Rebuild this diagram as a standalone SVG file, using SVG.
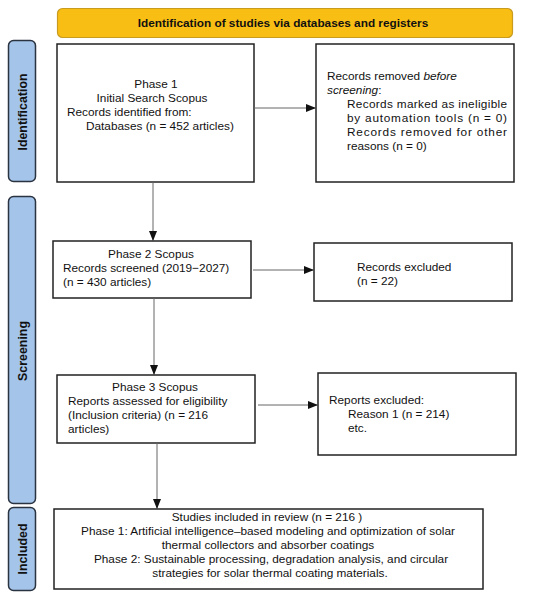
<svg xmlns="http://www.w3.org/2000/svg" width="550" height="599" viewBox="0 0 550 599">
<style>
text{font-family:"Liberation Sans",Arial,sans-serif;font-size:11.8px;fill:#111}
.box{fill:#fff;stroke:#222;stroke-width:1.5}
.side{fill:#a4c4e9;stroke:#2a3340;stroke-width:1.5}
.sidet{font-weight:bold;font-size:12.4px}
.c{text-anchor:middle}
.con{stroke:#666;stroke-width:1;fill:none}
</style>
<defs>
<marker id="ah" markerWidth="10" markerHeight="8" refX="9" refY="4" orient="auto" markerUnits="userSpaceOnUse">
<path d="M0,0 L10,4 L0,8 Z" fill="#111"/>
</marker>
</defs>
<rect width="550" height="599" fill="#fff"/>
<g id="banner">
<rect x="57.5" y="8.5" width="455" height="29" rx="5" fill="#f9be14" stroke="#c99b1f" stroke-width="1.2"/>
<text x="283" y="27" class="c" font-weight="bold">Identification of studies via databases and registers</text>
</g>
<g id="lbl-identification">
<rect x="8.5" y="40.5" width="27" height="141" rx="5" class="side"/>
<text class="sidet c" transform="translate(26.5,112) rotate(-90)">Identification</text>
</g>
<g id="lbl-screening">
<rect x="8.5" y="196.5" width="27" height="307" rx="5" class="side"/>
<text class="sidet c" transform="translate(26.5,351) rotate(-90)">Screening</text>
</g>
<g id="lbl-included">
<rect x="8.5" y="507.5" width="27" height="83" rx="5" class="side"/>
<text class="sidet c" transform="translate(26.5,549) rotate(-90)">Included</text>
</g>
<g id="phase1">
<rect x="57" y="44" width="197" height="138" class="box"/>
<text x="156" y="88" class="c">Phase 1</text>
<text x="152" y="102" class="c">Initial Search Scopus</text>
<text x="67" y="116">Records identified from:</text>
<text x="86" y="130">Databases (n = 452 articles)</text>
</g>
<g id="removed">
<rect x="316" y="44" width="198" height="138" class="box"/>
<text x="327" y="80">Records removed <tspan font-style="italic">before</tspan></text>
<text x="327" y="94"><tspan font-style="italic">screening</tspan>:</text>
<text x="347" y="108" textLength="160" lengthAdjust="spacing">Records marked as ineligible</text>
<text x="347" y="122" textLength="160" lengthAdjust="spacing">by automation tools (n = 0)</text>
<text x="347" y="136" textLength="160" lengthAdjust="spacing">Records removed for other</text>
<text x="347" y="150">reasons (n = 0)</text>
</g>
<g id="phase2">
<rect x="53" y="241" width="198" height="57" class="box"/>
<text x="151" y="258" class="c">Phase 2 Scopus</text>
<text x="63" y="272">Records screened (2019−2027)</text>
<text x="63" y="286">(n = 430 articles)</text>
</g>
<g id="excluded">
<rect x="314" y="243" width="198" height="58" class="box"/>
<text x="357" y="271">Records excluded</text>
<text x="357" y="285">(n = 22)</text>
</g>
<g id="phase3">
<rect x="57" y="375" width="198" height="68" class="box"/>
<text x="155" y="391" class="c">Phase 3 Scopus</text>
<text x="68" y="405">Reports assessed for eligibility</text>
<text x="68" y="419">(Inclusion criteria) (n = 216</text>
<text x="68" y="433">articles)</text>
</g>
<g id="reports-excluded">
<rect x="318" y="373" width="198" height="82" class="box"/>
<text x="329" y="404">Reports excluded:</text>
<text x="348" y="418">Reason 1 (n = 214)</text>
<text x="348" y="432">etc.</text>
</g>
<g id="included">
<rect x="54" y="509" width="429" height="80" class="box"/>
<text x="267" y="521" class="c">Studies included in review (n = 216 )</text>
<text x="268" y="535" class="c">Phase 1: Artificial intelligence–based modeling and optimization of solar</text>
<text x="268" y="549" class="c">thermal collectors and absorber coatings</text>
<text x="271" y="563" class="c">Phase 2: Sustainable processing, degradation analysis, and circular</text>
<text x="270" y="577" class="c">strategies for solar thermal coating materials.</text>
</g>
<g id="connectors">
<line x1="254" y1="108" x2="315" y2="108" class="con" marker-end="url(#ah)"/>
<line x1="153" y1="182" x2="153" y2="240" class="con" marker-end="url(#ah)"/>
<line x1="253" y1="270" x2="313" y2="270" class="con" marker-end="url(#ah)"/>
<line x1="154" y1="298" x2="154" y2="374" class="con" marker-end="url(#ah)"/>
<line x1="258" y1="405" x2="317" y2="405" class="con" marker-end="url(#ah)"/>
<line x1="157" y1="443" x2="157" y2="508" class="con" marker-end="url(#ah)"/>
</g>
</svg>
